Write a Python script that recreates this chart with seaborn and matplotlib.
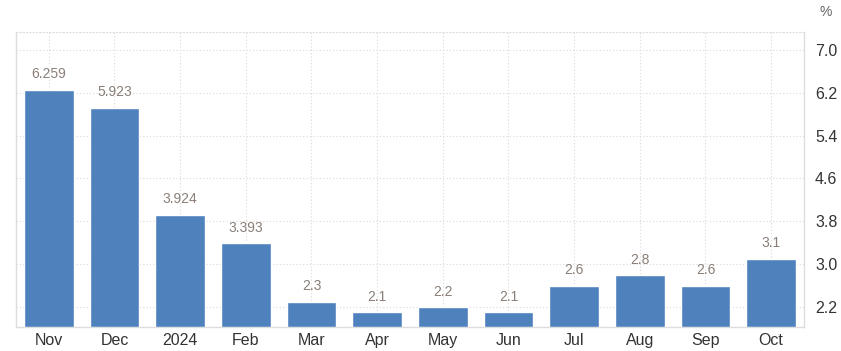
import numpy as np
import pandas as pd
import matplotlib
matplotlib.use('Agg')
import matplotlib.pyplot as plt
import seaborn as sns

months = ['Nov', 'Dec', '2024', 'Feb', 'Mar', 'Apr', 'May', 'Jun', 'Jul', 'Aug', 'Sep', 'Oct']
values = [6.259, 5.923, 3.924, 3.393, 2.3, 2.1, 2.2, 2.1, 2.6, 2.8, 2.6, 3.1]
labels = ['6.259', '5.923', '3.924', '3.393', '2.3', '2.1', '2.2', '2.1', '2.6', '2.8', '2.6', '3.1']
yticks = [2.2, 3.0, 3.8, 4.6, 5.4, 6.2, 7.0]

sns.set_style('white')
plt.rcParams['font.family'] = ['Liberation Sans', 'DejaVu Sans']

data = pd.DataFrame({'month': months, 'value': values})

fig = plt.figure(figsize=(8.41, 3.51), dpi=100)
ax = fig.add_axes([0.019, 0.0684, 0.937, 0.8406])

ymin = 1.826
sns.barplot(data=data, x='month', y='value', color='#4f81bd', saturation=1,
            width=0.76, ax=ax, zorder=3)
# bars start at the bottom of the axis, not at zero
for p in ax.patches:
    h = p.get_height()
    p.set_y(ymin)
    p.set_height(h - ymin)

for i, (v, t) in enumerate(zip(values, labels)):
    ax.annotate(t, (i, v), xytext=(0, 6), textcoords='offset points',
                ha='center', va='bottom', fontsize=10, color='#8a7f78', zorder=4)

ax.set_ylim(ymin, 7.336)
ax.set_xlim(-0.5, 11.5)
ax.set_yticks(yticks)
ax.set_yticklabels(['%.1f' % t for t in yticks])
ax.yaxis.tick_right()
ax.tick_params(axis='y', length=0, pad=8, labelsize=11.5, labelcolor='#333333')
ax.tick_params(axis='x', length=0, pad=4, labelsize=11.5, labelcolor='#333333')
ax.set_xlabel('')
ax.set_ylabel('')

ax.grid(True, axis='both', linestyle=(0, (1, 2)), color='#d9d9d9', linewidth=0.8, zorder=0)
ax.set_axisbelow(True)

for s in ['left', 'bottom', 'right']:
    ax.spines[s].set_color('#dddddd')
    ax.spines[s].set_linewidth(1)
ax.spines['top'].set_color('#dddddd')
ax.spines['top'].set_linestyle((0, (1, 2)))
ax.spines['top'].set_linewidth(0.8)

fig.text(826 / 841, 1 - 12 / 351, '%', ha='center', va='center', fontsize=10, color='#666666')

plt.savefig('out.png', dpi=100)
plt.close()
